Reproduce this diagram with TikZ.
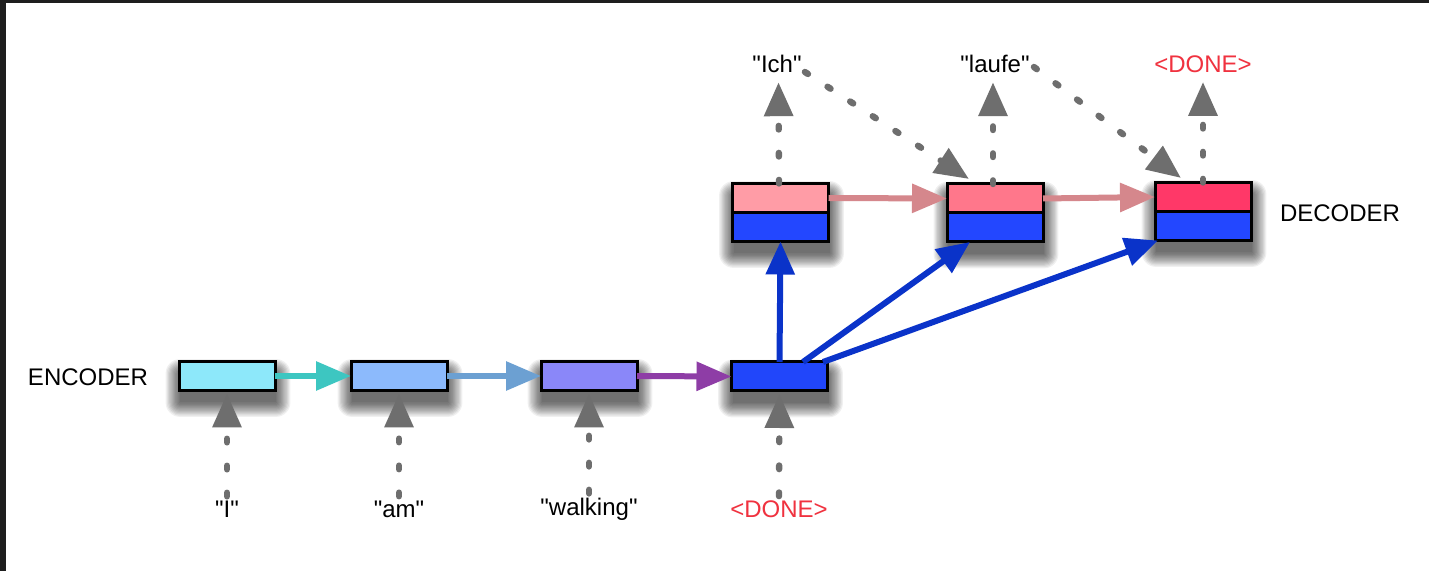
\documentclass[tikz,border=0pt]{standalone}
\usepackage{fontspec}
\setmainfont{Liberation Sans}[Ligatures=TeXOff]
\usetikzlibrary{arrows.meta}
\definecolor{enca}{HTML}{8DE8FA}
\definecolor{encb}{HTML}{8CBAFC}
\definecolor{encc}{HTML}{8A87F9}
\definecolor{encblue}{HTML}{2146FA}
\definecolor{deca}{HTML}{FF9CA6}
\definecolor{decb}{HTML}{FF778B}
\definecolor{decc}{HTML}{FF3868}
\definecolor{decblue}{HTML}{2347FF}
\definecolor{cyanarr}{HTML}{3DC6C1}
\definecolor{steelarr}{HTML}{6CA0D2}
\definecolor{purplearr}{HTML}{8E3DA6}
\definecolor{rosearr}{HTML}{D5878C}
\definecolor{bluearr}{HTML}{0A33C9}
\definecolor{arrgray}{HTML}{6E6E6E}
\definecolor{donered}{HTML}{F0323F}
\definecolor{frame}{HTML}{1E1E1E}
\pgfdeclarelayer{bg}
\pgfsetlayers{bg,main}
\newcommand\dshadow[1]{%
  \foreach \r in {0,0.6,...,7.3}{%
    \fill[black,opacity=0.06,rounded corners=\r pt]
      ([xshift=-\r pt+0.5pt,yshift=-6pt-\r pt]#1.south west) rectangle
      ([xshift=\r pt+0.5pt,yshift=-6pt+\r pt]#1.north east);}}
\begin{document}
\begin{tikzpicture}[x=0.5pt,y=0.5pt,
  box/.style={draw=black,line width=1.5pt,minimum width=48pt,minimum height=14.5pt,inner sep=0pt,outer sep=0pt},
  lbl/.style={font=\fontsize{12}{14}\selectfont,inner sep=0pt},
  harrow/.style={line width=3pt,-{Triangle[length=17.5pt,width=14pt]}},
  garrow/.style={draw=arrgray,line width=3.2pt,line cap=round,dash pattern=on 1.8pt off 11.7pt,-{Triangle[length=17pt,width=14pt]}},
  barrow/.style={draw=bluearr,line width=3pt,-{Triangle[length=16.5pt,width=14pt]}}]
\useasboundingbox (0,0) rectangle (1429,-571);

% encoder boxes
\node[box,fill=enca] (e1) at (227,-376) {};
\node[box,fill=encb] (e2) at (399,-376) {};
\node[box,fill=encc] (e3) at (589,-376) {};
\node[box,fill=encblue] (e4) at (779.5,-376.5) {};

% decoder boxes
\node[box,fill=decblue,minimum height=29pt] (d1) at (780.5,-212.5) {};
\node[box,fill=deca,anchor=north] (d1t) at (d1.north) {};
\node[box,fill=decblue,minimum height=29pt] (d2) at (995,-213) {};
\node[box,fill=decb,anchor=north] (d2t) at (d2.north) {};
\node[box,fill=decblue,minimum height=29pt] (d3) at (1203,-211.5) {};
\node[box,fill=decc,anchor=north] (d3t) at (d3.north) {};

% background, frame and shadows
\begin{pgfonlayer}{bg}
\fill[white] (0,0) rectangle (1429,-571);
\fill[frame] (0,0) rectangle (1429,-3);
\fill[frame] (0,0) rectangle (6,-571);
\dshadow{e1}\dshadow{e2}\dshadow{e3}\dshadow{e4}
\dshadow{d1}\dshadow{d2}\dshadow{d3}
\end{pgfonlayer}

% labels
\node[lbl] (enc) at (88,-377) {ENCODER};
\node[lbl] (dec) at (1340,-213.5) {DECODER};
\node[lbl] (wI) at (227,-509) {"I"};
\node[lbl] (wam) at (399,-509) {"am"};
\node[lbl] (wwalk) at (589,-509) {"walking"};
\node[lbl,text=donered] (wdone) at (779,-509) {<DONE>};
\node[lbl] (wIch) at (777,-64) {"Ich"};
\node[lbl] (wlaufe) at (995,-64) {"laufe"};
\node[lbl,text=donered] (wdone2) at (1203,-64) {<DONE>};

% encoder chain
\draw[harrow,draw=cyanarr] (e1.east) -- (e2.west);
\draw[harrow,draw=steelarr] (e2.east) -- (e3.west);
\draw[harrow,draw=purplearr] (e3.east) -- (e4.west);

% decoder chain
\draw[harrow,draw=rosearr] (d1t.east) -- (d2t.west);
\draw[harrow,draw=rosearr] (d2t.east) -- (d3t.west);

% encoder to decoder
\draw[barrow] (e4.north) -- (d1.south);
\draw[barrow] ([xshift=11.75pt]e4.north) -- ([xshift=-12.5pt]d2.south);
\draw[barrow] ([xshift=21.75pt]e4.north) -- ([xshift=1.5pt]d3.south west);

% inputs
\draw[garrow] ([yshift=2pt]wI.north) -- ([yshift=-1.5pt]e1.south);
\draw[garrow] ([yshift=2pt]wam.north) -- ([yshift=-1.5pt]e2.south);
\draw[garrow] ([yshift=2pt]wwalk.north) -- ([yshift=-1.5pt]e3.south);
\draw[garrow] ([yshift=2pt]wdone.north) -- ([yshift=-1.5pt]e4.south);

% outputs
\draw[garrow] ([xshift=-0.75pt]d1.north) -- ([xshift=0.75pt,yshift=-4.5pt]wIch.south);
\draw[garrow] ([xshift=-1pt]d2.north) -- ([xshift=-1pt,yshift=-4.5pt]wlaufe.south);
\draw[garrow] (d3.north) -- ([yshift=-4.5pt]wdone2.south);

% feedback
\coordinate (t2) at (969,-179);
\coordinate (t3) at (1181,-178);
\draw[garrow] ([xshift=1.5pt,yshift=-4pt]wIch.east) -- (t2);
\draw[garrow] ([xshift=2pt,yshift=-1.5pt]wlaufe.east) -- (t3);
\end{tikzpicture}
\end{document}
